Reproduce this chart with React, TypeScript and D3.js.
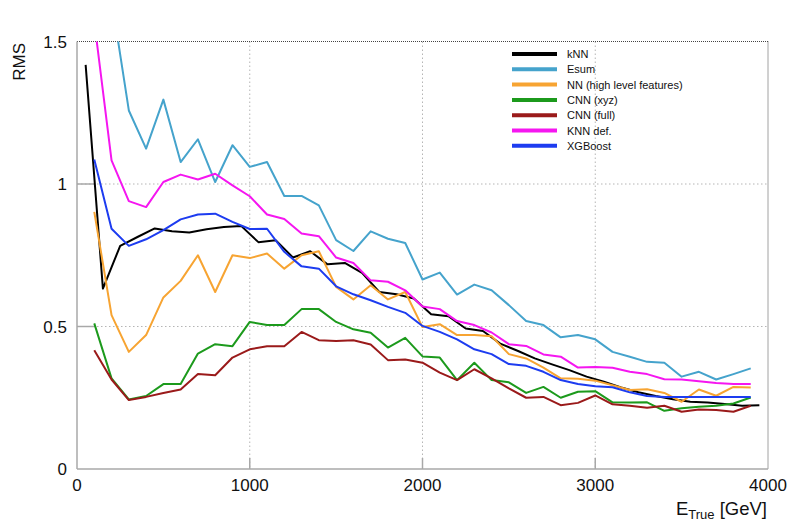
import React from "react";
import * as d3 from "d3";

// bin centres (GeV)
const binsMain = d3.range(100, 4000, 100);
const binsKnn = d3.range(50, 4000, 100);

const knn = [1.418, 0.633, 0.783, 0.814, 0.844, 0.834, 0.83, 0.841, 0.849, 0.853,
  0.796, 0.803, 0.742, 0.764, 0.718, 0.723, 0.688, 0.621, 0.613, 0.598,
  0.543, 0.536, 0.493, 0.484, 0.44, 0.415, 0.388, 0.367, 0.347, 0.324,
  0.306, 0.286, 0.269, 0.256, 0.245, 0.236, 0.233, 0.228, 0.222, 0.224];
const esum = [1.95, 1.65, 1.258, 1.124, 1.296, 1.077, 1.157, 1.007, 1.136, 1.06,
  1.077, 0.958, 0.958, 0.925, 0.803, 0.765, 0.834, 0.808, 0.793, 0.665,
  0.689, 0.612, 0.647, 0.627, 0.575, 0.519, 0.505, 0.462, 0.47, 0.455,
  0.411, 0.394, 0.376, 0.373, 0.324, 0.341, 0.314, 0.333, 0.353];
const nnHigh = [0.902, 0.54, 0.411, 0.47, 0.602, 0.66, 0.75, 0.621, 0.75, 0.74,
  0.756, 0.703, 0.75, 0.764, 0.639, 0.595, 0.645, 0.595, 0.621, 0.498,
  0.508, 0.47, 0.47, 0.466, 0.403, 0.388, 0.356, 0.318, 0.317, 0.31,
  0.294, 0.277, 0.28, 0.267, 0.236, 0.279, 0.257, 0.288, 0.286];
const cnnXyz = [0.511, 0.318, 0.244, 0.256, 0.298, 0.298, 0.405, 0.438, 0.431, 0.516,
  0.505, 0.505, 0.561, 0.561, 0.516, 0.49, 0.478, 0.426, 0.46, 0.395,
  0.391, 0.312, 0.373, 0.312, 0.304, 0.267, 0.288, 0.25, 0.271, 0.273,
  0.234, 0.233, 0.234, 0.204, 0.213, 0.218, 0.222, 0.23, 0.251];
const cnnFull = [0.417, 0.314, 0.242, 0.253, 0.267, 0.279, 0.333, 0.329, 0.391, 0.42,
  0.431, 0.431, 0.481, 0.452, 0.449, 0.452, 0.437, 0.382, 0.384, 0.373,
  0.338, 0.312, 0.35, 0.318, 0.283, 0.25, 0.253, 0.224, 0.232, 0.258,
  0.227, 0.222, 0.215, 0.222, 0.201, 0.209, 0.207, 0.201, 0.222];
const knnDef = [1.57, 1.083, 0.94, 0.919, 1.007, 1.033, 1.016, 1.036, 0.995, 0.957,
  0.893, 0.877, 0.826, 0.817, 0.742, 0.723, 0.662, 0.657, 0.627, 0.57,
  0.561, 0.519, 0.505, 0.479, 0.438, 0.432, 0.402, 0.394, 0.356, 0.358,
  0.355, 0.341, 0.333, 0.315, 0.314, 0.308, 0.302, 0.298, 0.298];
const xgboost = [1.086, 0.843, 0.783, 0.806, 0.838, 0.876, 0.893, 0.896, 0.867, 0.842,
  0.843, 0.762, 0.711, 0.703, 0.641, 0.613, 0.592, 0.569, 0.548, 0.502,
  0.481, 0.455, 0.42, 0.403, 0.368, 0.362, 0.341, 0.312, 0.298, 0.29,
  0.287, 0.269, 0.256, 0.253, 0.253, 0.253, 0.253, 0.253, 0.253];

const seriesNames = ["kNN", "Esum", "NN (high level features)", "CNN (xyz)", "CNN (full)", "KNN def.", "XGBoost"];
const seriesValues = [knn, esum, nnHigh, cnnXyz, cnnFull, knnDef, xgboost];
const seriesColors = ["#000000", "#45a3cc", "#f7a432", "#1c9a1c", "#9a1a1a", "#f516f0", "#1d3cf0"];

const xTicks = [0, 1000, 2000, 3000, 4000];
const yTicks = [0, 0.5, 1, 1.5];
const yTickLabels = ["0", "0.5", "1", "1.5"];

const font = "'Liberation Sans', Arial, Helvetica, sans-serif";

export default function App() {
  const left = 77, right = 768, top = 41.5, bottom = 469;
  const x = d3.scaleLinear().domain([0, 4000]).range([left, right]);
  const y = d3.scaleLinear().domain([0, 1.5]).range([bottom, top]);

  const line = d3.line<[number, number]>()
    .x((d) => x(d[0]))
    .y((d) => y(d[1]));

  return (
    <svg width={800} height={531} style={{ position: "absolute", left: 0, top: 0, background: "#fff" }} fontFamily={font}>
      <defs>
        <clipPath id="plot">
          <rect x={left} y={top} width={right - left} height={bottom - top} />
        </clipPath>
      </defs>

      {/* grid */}
      {xTicks.slice(1, -1).map((t) => (
        <line key={"gx" + t} x1={x(t)} x2={x(t)} y1={top} y2={bottom} stroke="#b5b5b5" strokeWidth={1} strokeDasharray="1.5,2.5" />
      ))}
      {yTicks.slice(1, -1).map((t) => (
        <line key={"gy" + t} x1={left} x2={right} y1={y(t)} y2={y(t)} stroke="#b5b5b5" strokeWidth={1} strokeDasharray="1.5,2.5" />
      ))}

      {/* frame */}
      <line x1={left} x2={right} y1={top} y2={top} stroke="#444" strokeWidth={1} strokeDasharray="1,1" />
      <line x1={right} x2={right} y1={top} y2={bottom} stroke="#444" strokeWidth={1} strokeDasharray="1,1" />
      <line x1={left} x2={left} y1={top} y2={bottom} stroke="#a8a8a8" strokeWidth={1.5} />
      <line x1={left} x2={right} y1={bottom} y2={bottom} stroke="#a8a8a8" strokeWidth={1.5} />

      {/* ticks */}
      {xTicks.slice(1, -1).map((t) => (
        <line key={"tx" + t} x1={x(t)} x2={x(t)} y1={bottom} y2={bottom - 11} stroke="#a8a8a8" strokeWidth={1.5} />
      ))}
      {yTicks.slice(1, -1).map((t) => (
        <line key={"ty" + t} x1={left} x2={left + 18} y1={y(t)} y2={y(t)} stroke="#a8a8a8" strokeWidth={1.5} />
      ))}

      {/* series */}
      <g clipPath="url(#plot)">
        {seriesValues.map((vals, i) => {
          const bins = vals.length === binsKnn.length ? binsKnn : binsMain;
          const pts = vals.map((v, j) => [bins[j], v] as [number, number]);
          return (
            <path key={seriesNames[i]} d={line(pts) || ""} fill="none" stroke={seriesColors[i]} strokeWidth={2} strokeLinejoin="round" />
          );
        })}
      </g>

      {/* tick labels */}
      {xTicks.map((t) => (
        <text key={"lx" + t} x={x(t)} y={491} textAnchor="middle" fontSize={17} fill="#111">{t}</text>
      ))}
      {yTicks.map((t, i) => (
        <text key={"ly" + t} x={67} y={y(t) + 6} textAnchor="end" fontSize={17} fill="#111">{yTickLabels[i]}</text>
      ))}

      {/* axis titles */}
      <text transform="translate(25,43) rotate(-90)" textAnchor="end" fontSize={17} fill="#111">RMS</text>
      <text x={767} y={515} textAnchor="end" fontSize={18.5} fill="#111">
        E<tspan fontSize={13} dy={4}>True</tspan><tspan dy={-4}> [GeV]</tspan>
      </text>

      {/* legend */}
      {seriesNames.map((name, i) => {
        const ly = 54 + i * 15.3;
        return (
          <g key={"lg" + name}>
            <line x1={512} x2={557} y1={ly} y2={ly} stroke={seriesColors[i]} strokeWidth={4} />
            <text x={567} y={ly + 4} fontSize={11} fill="#111">{name}</text>
          </g>
        );
      })}
    </svg>
  );
}
